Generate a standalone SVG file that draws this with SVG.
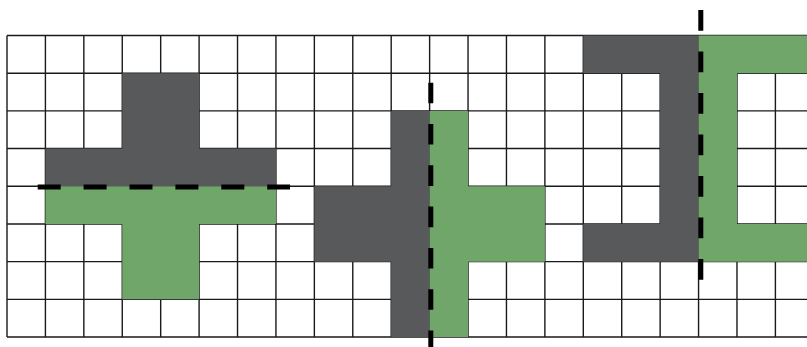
<svg xmlns="http://www.w3.org/2000/svg" width="807" height="347" viewBox="0 0 807 347">
<style>
.grid{fill:none;stroke:#1a1a1a;stroke-width:1.4}
.dark{fill:#58595b}
.green{fill:#71a66b}
.axis{fill:none;stroke:#000;stroke-width:5}
</style>
<rect width="807" height="347" fill="#fff"/>
<g id="grid">
<path class="grid" d="M7,35.5H807M7,73.19H807M7,110.88H807M7,148.57H807M7,186.26H807M7,223.95H807M7,261.64H807M7,299.33H807M7,337.02H807
M7,35.5V337.02M45.42,35.5V337.02M83.84,35.5V337.02M122.26,35.5V337.02M160.68,35.5V337.02M199.1,35.5V337.02M237.52,35.5V337.02M275.94,35.5V337.02M314.36,35.5V337.02M352.78,35.5V337.02M391.2,35.5V337.02M429.62,35.5V337.02M468.04,35.5V337.02M506.46,35.5V337.02M544.88,35.5V337.02M583.3,35.5V337.02M621.72,35.5V337.02M660.14,35.5V337.02M698.56,35.5V337.02M736.98,35.5V337.02M775.4,35.5V337.02"/>
</g>
<g id="shape1">
<path class="dark" d="M122.26,73.19H199.1V148.57H275.94V186.26H45.42V148.57H122.26Z"/>
<path class="green" d="M45.42,186.26H275.94V223.95H199.1V299.33H122.26V223.95H45.42Z"/>
</g>
<g id="shape2">
<path class="dark" d="M391.2,110.88H429.62V337.02H391.2V261.64H314.36V186.26H391.2Z"/>
<path class="green" d="M429.62,110.88H468.04V186.26H544.88V261.64H468.04V337.02H429.62Z"/>
</g>
<g id="shape3">
<path class="dark" d="M583.3,35.5H698.56V261.64H583.3V223.95H660.14V73.19H583.3Z"/>
<path class="green" d="M698.56,35.5H807V73.19H736.98V223.95H807V261.64H698.56Z"/>
</g>
<g id="connectors">
<path class="axis" d="M37.7,187H290" stroke-dasharray="23 22.9"/>
<path class="axis" d="M430.8,82.7V347" stroke-dasharray="20.6 20.7"/>
<path class="axis" d="M700.8,10V280" stroke-dasharray="20.7 20.8"/>
</g>
</svg>
